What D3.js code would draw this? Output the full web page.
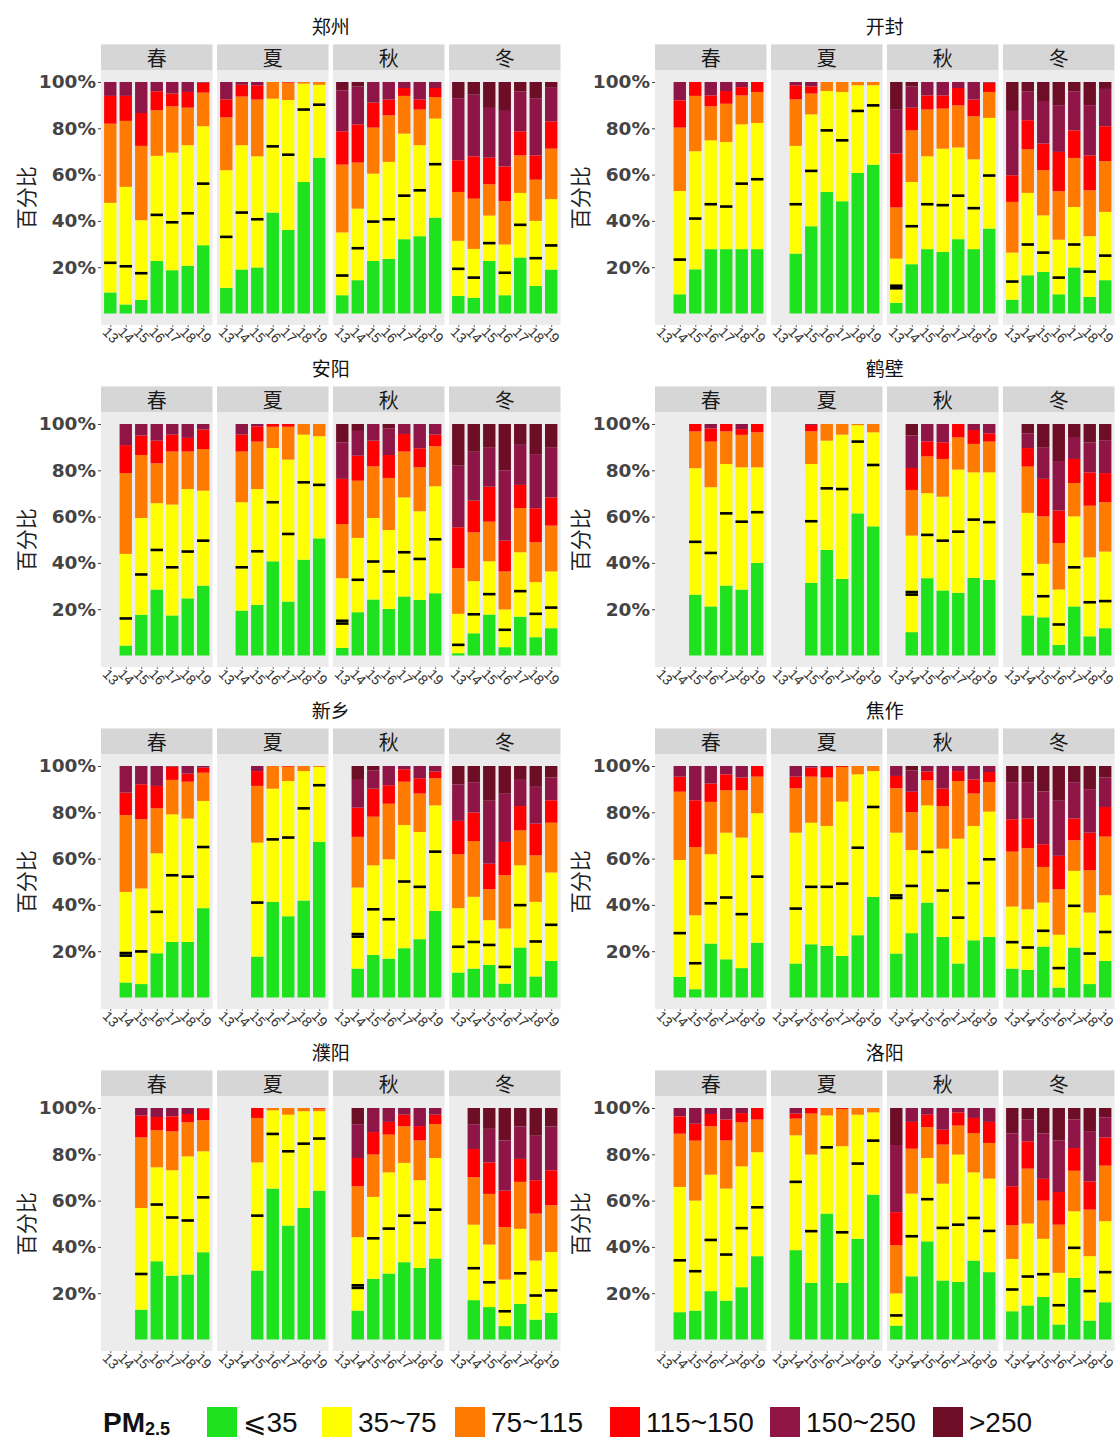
<!DOCTYPE html>
<html><head><meta charset="utf-8">
<script src="https://cdn.jsdelivr.net/npm/d3@7/dist/d3.min.js"></script>
<style>body{margin:0;background:#fff}</style>
</head><body><svg id="chart" width="1120" height="1441"></svg>
<script>
const cities = ["郑州","开封","安阳","鹤壁","新乡","焦作","濮阳","洛阳"];
const seasons = ["春","夏","秋","冬"];
const years = ["13","14","15","16","17","18","19"];
const levels = ["⩽35","35~75","75~115","115~150","150~250",">250"];
const yTicks = [20,40,60,80,100];
const N = null;

// cumulative upper bound (%) of each PM2.5 class: [city][season][year]
const top35 = [
 [[9.1,3.9,5.9,22.7,18.7,20.6,29.5],[11.1,19.0,19.9,43.6,36.1,56.8,67.3],[7.9,14.4,22.7,23.6,32.1,33.4,41.4],[7.6,6.8,22.7,7.9,24.2,11.9,19.0]],
 [[N,8.3,19.1,27.8,27.8,27.8,27.8],[N,25.9,37.7,52.5,48.5,60.7,64.3],[4.6,21.3,27.8,26.6,32.1,27.8,36.7],[6.0,16.5,18.0,8.3,19.9,7.2,14.4]],
 [[N,4.3,17.6,28.5,17.3,24.7,30.2],[N,19.4,21.9,40.7,23.3,41.4,50.6],[3.3,18.7,24.2,20.1,25.5,24.0,26.9],[1.0,9.6,17.7,3.6,16.8,7.9,11.8]],
 [[N,N,26.3,21.2,30.2,28.5,40.0],[N,N,31.4,45.6,33.1,61.4,55.8],[N,10.1,33.4,28.1,27.1,33.5,32.7],[N,17.3,16.5,4.6,21.2,8.3,11.8]],
 [[N,6.5,5.8,19.1,24.0,24.0,38.6],[N,N,17.7,41.3,35.1,41.9,67.2],[N,12.5,18.4,16.8,21.3,25.2,37.4],[10.8,12.5,14.1,6.0,21.6,9.1,15.8]],
 [[N,8.9,3.6,23.3,16.5,12.7,23.7],[N,14.7,23.0,22.3,18.0,26.9,43.5],[19.0,27.8,41.0,26.2,14.7,24.7,26.2],[12.5,11.9,22.0,4.3,21.6,5.8,15.8]],
 [[N,N,12.9,33.8,27.6,28.1,37.7],[N,N,29.8,65.2,49.2,56.8,64.3],[N,12.5,26.2,28.5,33.4,30.9,35.0],[N,17.0,14.0,5.8,15.4,8.6,11.5]],
 [[N,11.8,12.5,20.9,16.8,22.6,36.0],[N,38.6,24.5,54.4,24.5,43.5,62.6],[6.0,27.3,42.4,25.5,24.9,34.1,29.1],[12.2,14.7,18.4,6.5,26.6,8.2,16.1]]
];
const top75 = [
 [[47.8,54.7,40.3,68.1,69.5,72.7,80.9],[61.9,72.7,67.9,92.8,92.2,99.3,98.8],[35.0,45.3,60.4,65.5,77.7,72.7,84.2],[31.4,27.9,42.3,29.8,52.1,40.0,49.4]],
 [[N,52.9,70.1,74.8,74.1,81.7,82.3],[N,72.4,86.0,96.1,95.7,98.6,98.6],[23.7,56.8,67.9,71.2,71.7,66.6,84.5],[26.3,52.1,42.4,31.9,46.0,33.4,43.9]],
 [[N,43.9,59.4,65.8,65.2,71.9,71.2],[N,66.2,71.9,89.6,84.6,95.4,94.7],[33.4,50.8,59.4,54.2,68.3,62.3,73.1],[18.0,32.1,40.7,19.9,44.6,31.7,36.3]],
 [[N,N,80.9,72.7,82.7,81.3,81.3],[N,N,82.7,92.8,95.4,99.5,96.4],[N,51.8,70.1,68.6,80.3,79.1,79.1],[N,61.6,39.6,28.5,60.1,42.4,44.9]],
 [[N,45.6,47.1,62.3,79.1,77.3,84.9],[N,N,66.9,90.2,93.5,97.8,99.6],[N,47.5,57.1,59.7,74.5,71.5,83.0],[38.6,43.5,33.4,29.8,57.1,41.3,54.0]],
 [[N,59.4,35.5,61.9,71.2,69.1,79.6],[N,71.2,75.5,74.1,84.6,96.4,97.8],[71.2,63.7,83.0,64.3,68.6,74.1,80.3],[39.3,38.1,41.0,27.1,54.7,36.7,44.2]],
 [[N,N,56.8,74.4,73.1,79.1,81.3],[N,N,76.5,99.0,97.1,98.6,98.6],[N,44.2,61.6,72.2,76.3,68.8,78.4],[N,49.6,41.0,25.9,47.8,34.1,37.8]],
 [[N,65.9,60.0,71.2,65.2,74.8,80.9],[N,88.2,79.9,96.8,83.5,97.1,98.1],[19.9,63.0,78.4,67.3,79.9,72.2,69.5],[34.8,50.1,43.5,28.8,55.4,36.0,51.1]]
];
const top115 = [
 [[82.0,83.2,72.4,87.8,89.5,88.9,95.4],[84.7,93.7,92.4,100,99.7,100,100],[64.3,65.2,80.3,85.6,94.0,88.1,93.5],[52.5,49.6,55.8,48.6,68.3,57.8,71.2]],
 [[N,80.3,94.0,89.5,90.6,94.2,95.7],[N,92.5,95.0,100,100,100,100],[45.8,79.1,88.1,88.5,89.9,85.2,95.7],[48.2,70.9,61.9,52.8,67.2,53.2,65.8]],
 [[N,78.8,86.6,83.0,88.1,88.1,89.2],[N,88.1,92.4,98.8,98.8,100,100],[56.8,75.5,81.7,76.7,88.1,81.3,90.4],[37.7,53.2,57.8,36.3,63.7,48.9,56.1]],
 [[N,N,96.8,92.4,96.8,95.3,96.4],[N,N,96.8,100,100,100,100],[N,71.5,86.0,84.9,94.2,91.4,92.4],[N,81.6,60.1,48.6,74.5,64.7,66.2]],
 [[N,78.8,77.0,81.7,94.0,93.2,97.1],[N,N,91.4,100,99.7,100,100],[N,69.4,78.1,83.7,93.2,88.1,94.7],[61.9,67.6,46.8,52.8,72.2,61.4,75.5]],
 [[N,88.9,65.0,84.5,89.5,89.5,95.4],[N,90.4,95.4,95.0,99.6,100,100],[90.4,80.1,93.8,82.7,93.5,88.1,93.1],[63.0,64.5,56.4,46.8,67.9,55.0,69.5]],
 [[N,N,87.3,90.4,89.9,93.8,94.7],[N,N,95.7,100,100,100,99.7],[N,66.2,79.9,88.5,92.1,86.0,93.1],[N,70.1,62.9,48.6,68.1,54.4,58.0]],
 [[N,88.9,85.9,92.1,86.0,93.8,95.0],[N,95.4,97.6,100,99.6,100,100],[40.7,82.4,91.7,84.2,92.4,89.2,84.9],[49.4,73.8,60.0,49.6,72.9,56.1,75.1]]
];
const top150 = [
 [[94.0,94.0,86.6,96.0,95.0,95.7,99.7],[92.5,98.8,98.6,100,100,100,100],[78.7,81.7,91.1,92.4,97.4,92.5,97.4],[66.2,67.9,67.3,63.5,78.7,68.3,83.0]],
 [[N,92.1,100,94.2,96.1,97.8,100],[N,98.6,98.1,100,100,100,100],[69.1,88.9,94.2,94.2,97.4,92.4,99.7],[59.7,83.5,73.4,69.8,79.1,68.3,80.9]],
 [[N,90.9,95.0,92.8,95.4,94.0,97.6],[N,95.4,99.0,100,100,100,100],[76.3,86.3,92.8,86.6,95.7,89.5,95.4],[55.4,66.9,72.9,49.6,73.7,63.6,68.3]],
 [[N,N,100,98.1,100,97.8,100],[N,N,99.6,100,100,100,100],[N,81.0,92.5,92.1,100,97.4,96.0],[N,89.6,76.3,62.6,84.9,79.1,78.8]],
 [[N,88.5,92.1,91.4,99.7,96.7,99.3],[N,N,97.8,100,100,100,100],[N,82.0,90.2,91.7,98.6,94.7,97.6],[76.3,79.9,57.8,67.2,82.7,75.1,85.2]],
 [[N,95.4,85.2,92.4,96.4,95.0,100],[N,95.4,99.3,99.6,100,100,100],[95.7,88.9,97.6,90.2,97.8,94.2,97.4],[77.0,77.3,66.2,61.2,77.3,71.2,82.3]],
 [[N,N,96.7,96.1,96.4,97.4,99.7],[N,N,100,100,100,100,100],[N,78.4,89.6,94.0,97.1,92.2,97.1],[N,82.3,76.5,64.3,78.0,68.8,73.1]],
 [[N,96.4,93.2,97.4,95.0,97.8,100],[N,97.6,100,100,100,100,100],[55.0,94.0,97.1,90.6,98.1,95.7,94.0],[66.2,85.6,69.4,63.7,82.7,68.3,87.3]]
];
const top250 = [
 [[100,100,100,100,100,100,100],[100,100,100,100,100,100,100],[96.4,98,100,100,100,100,100],[93,94.5,88.8,87.5,96,93,97.5]],
 [[N,100,100,100,100,100,100],[N,100,100,100,100,100,100],[88,98,100,100,100,100,100],[87.5,96,91.8,90,96,90,97]],
 [[N,100,100,100,100,100,100],[N,100,100,100,100,100,100],[92,97,100,98,100,100,100],[82,88,90,80,91,87,90]],
 [[N,N,100,100,100,100,100],[N,N,100,100,100,100,100],[N,95,100,100,100,100,100],[N,96,90,84,94,92,93]],
 [[N,100,100,100,100,100,100],[N,N,100,100,100,100,100],[N,94,98,100,100,100,100],[92,93,85,88,94,91,95]],
 [[N,100,100,100,100,100,100],[N,100,100,100,100,100,100],[100,98,100,100,100,100,100],[93,93,89,85,93,90,95]],
 [[N,N,100,100,100,100,100],[N,N,100,100,100,100,100],[N,93,100,100,100,100,100],[N,93,91,86,92,88,92]],
 [[N,100,100,100,100,100,100],[N,100,100,100,100,100,100],[84,100,100,100,100,100,100],[89,95,89,86,95,90,96]]
];
// black marker value (%) for each bar
const markers = [
 [[21.9,20.4,17.4,42.6,39.4,43.3,56.1],[33.1,43.6,40.7,72.2,68.6,88.1,90.2],[16.4,28.2,39.7,40.7,50.9,53.2,64.5],[19.3,15.5,30.4,17.6,38.3,23.9,29.4]],
 [[N,23.3,41.0,47.2,46.2,56.1,58.0],[N,47.2,61.6,79.1,74.8,87.5,89.9],[12.0,37.7,47.2,46.8,50.9,45.5,59.6],[13.8,29.8,26.3,15.5,29.8,18.1,25.0]],
 [[N,16.0,35.0,45.6,38.1,44.9,49.6],[N,38.1,45.0,66.2,52.5,74.8,73.7],[15.0,32.7,40.6,36.3,44.6,41.7,50.2],[4.6,17.8,26.5,11.1,27.8,18.0,20.7]],
 [[N,N,49.1,44.3,61.4,57.8,61.9],[N,N,58.0,72.2,71.9,92.4,82.3],[N,27.4,52.1,49.6,53.5,58.7,57.6],[N,35.1,25.6,13.4,38.1,23.0,23.5]],
 [[N,19.2,19.9,37.0,52.8,52.2,65.0],[N,N,41.0,68.3,69.1,81.7,91.7],[N,27.4,38.1,33.8,50.1,47.8,63.0],[21.9,24.0,22.7,13.2,39.9,24.2,31.4]],
 [[N,27.8,14.8,40.7,43.2,36.0,52.2],[N,38.4,47.8,47.8,49.2,64.7,82.3],[44.1,48.2,62.9,46.2,34.5,49.4,59.7],[23.9,21.6,28.8,12.7,39.6,19.0,28.3]],
 [[N,N,28.3,58.3,52.7,51.4,61.4],[N,N,53.5,88.8,81.3,84.6,86.8],[N,23.4,43.7,47.9,53.5,50.4,56.1],[N,30.8,24.7,12.2,28.6,19.0,21.2]],
 [[N,34.2,29.5,43.0,36.7,48.1,57.1],[N,68.1,46.8,83.0,46.3,76.0,85.9],[10.4,44.6,60.6,48.2,49.6,52.5,46.9],[21.6,27.2,28.2,14.8,39.6,20.9,29.1]]
];
// second (overlapping) markers: [city, season, year, value]
const extraMarkers = [[1,2,0,10.9],[2,2,0,13.8],[3,2,1,26.3],[4,0,1,18.1],[4,2,1,26.3],[5,2,0,43.0],[6,2,1,22.3]];

const colors = ["#1ee21e","#ffff00","#ff7a00","#ff0000","#8f1547","#6e0d26"];

const svg = d3.select("#chart");
svg.append("rect").attr("width",1120).attr("height",1441).attr("fill","#fff");

const colLeft = [101, 655];
const facetW = 111.5, facetStep = 116;
const rowStep = 342;
const cjk = "'Noto Sans CJK SC', sans-serif";

cities.forEach((city, ci) => {
  const col = ci % 2, row = Math.floor(ci / 2);
  const dy = row * rowStep;
  const y = d3.scaleLinear().domain([0, 100]).range([313.5 + dy, 82 + dy]);
  const pTop = y(105), pBot = y(-5);
  const left0 = colLeft[col];
  const g = svg.append("g");

  // city title
  g.append("text").attr("x", left0 + (3 * facetStep + facetW) / 2).attr("y", 25 + dy)
    .attr("text-anchor", "middle").attr("dominant-baseline", "central")
    .style("font-family", cjk).style("font-size", "19px").attr("fill", "#111").text(city);

  // y axis title
  g.append("text").attr("transform", `translate(${left0 - 76},${(pTop + pBot) / 2}) rotate(-90)`)
    .attr("text-anchor", "middle").attr("dominant-baseline", "central")
    .style("font-family", cjk).style("font-size", "21px").attr("fill", "#222").text("百分比");

  // y axis
  const ya = g.append("g").attr("transform", `translate(${left0},0)`)
    .call(d3.axisLeft(y).tickValues(yTicks).tickFormat(d => d + "%").tickSize(3).tickPadding(2));
  ya.select(".domain").remove();
  ya.selectAll("line").attr("stroke", "#444");
  ya.selectAll("text").style("font-family", "'DejaVu Sans', sans-serif").style("font-weight", "bold")
    .style("font-size", "18.5px").attr("fill", "#444");

  seasons.forEach((season, si) => {
    const left = left0 + si * facetStep;
    const x = d3.scaleLinear().domain([0.4, 7.6]).range([left, left + facetW]);
    const bw = x(1.4) - x(0.6);

    // strip
    g.append("rect").attr("x", left).attr("y", pTop - 26).attr("width", facetW).attr("height", 26).attr("fill", "#d6d6d6");
    g.append("text").attr("x", left + facetW / 2).attr("y", pTop - 13)
      .attr("text-anchor", "middle").attr("dominant-baseline", "central")
      .style("font-family", cjk).style("font-size", "20px").attr("fill", "#1a1a1a").text(season);
    // panel
    g.append("rect").attr("x", left).attr("y", pTop).attr("width", facetW).attr("height", pBot - pTop).attr("fill", "#ececec");

    // rows of per-class shares
    const rows = [];
    years.forEach((yr, yi) => {
      const t = [0, top35[ci][si][yi], top75[ci][si][yi], top115[ci][si][yi], top150[ci][si][yi], top250[ci][si][yi], 100];
      if (t[1] == null) return;
      const r = { pos: yi + 1 };
      levels.forEach((lv, k) => r[lv] = t[k + 1] - t[k]);
      rows.push(r);
    });
    const stacked = d3.stack().keys(levels)(rows);
    stacked.forEach((ser, k) => {
      g.append("g").selectAll("rect").data(ser.filter(d => d[1] - d[0] > 0.001)).join("rect")
        .attr("x", d => x(d.data.pos) - bw / 2).attr("width", bw)
        .attr("y", d => y(d[1])).attr("height", d => y(d[0]) - y(d[1]))
        .attr("fill", colors[k]);
    });

    // markers
    const mk = [];
    markers[ci][si].forEach((v, yi) => { if (v != null) mk.push({ pos: yi + 1, v }); });
    extraMarkers.filter(e => e[0] === ci && e[1] === si).forEach(e => mk.push({ pos: e[2] + 1, v: e[3] }));
    g.append("g").selectAll("rect").data(mk).join("rect")
      .attr("x", d => x(d.pos) - bw / 2).attr("width", bw)
      .attr("y", d => y(d.v) - 1.3).attr("height", 2.6).attr("fill", "#000");

    // x axis
    const xa = g.append("g").attr("transform", `translate(0,${pBot})`)
      .call(d3.axisBottom(x).tickValues([1,2,3,4,5,6,7]).tickFormat(i => years[i - 1]).tickSize(2));
    xa.select(".domain").remove();
    xa.selectAll("line").attr("stroke", "#666");
    xa.selectAll("text").attr("y", 0).attr("dy", null)
      .attr("transform", "translate(0,10) rotate(45)")
      .attr("text-anchor", "middle").attr("dominant-baseline", "central")
      .style("font-family", "'Liberation Sans', Arial, sans-serif").style("font-size", "14px").attr("fill", "#333");
  });
});

// legend
const lg = svg.append("g");
const ly = 1422;
const pm = lg.append("text").attr("x", 103).attr("y", ly + 10)
  .style("font-family", "'Liberation Sans', Arial, sans-serif").attr("fill", "#111");
pm.append("tspan").style("font-size", "28px").style("font-weight", "bold").text("PM");
pm.append("tspan").attr("dy", 3).style("font-size", "18px").style("font-weight", "bold").text("2.5");
const swX = [207, 322, 455, 610, 770, 933];
levels.forEach((lv, k) => {
  lg.append("rect").attr("x", swX[k]).attr("y", ly - 15).attr("width", 30).attr("height", 30).attr("fill", colors[k]);
  lg.append("text").attr("x", swX[k] + 36).attr("y", ly + 10)
    .style("font-family", "'Liberation Sans', 'DejaVu Sans', Arial, sans-serif").style("font-size", "28px")
    .attr("fill", "#111").text(lv);
});
</script></body></html>
